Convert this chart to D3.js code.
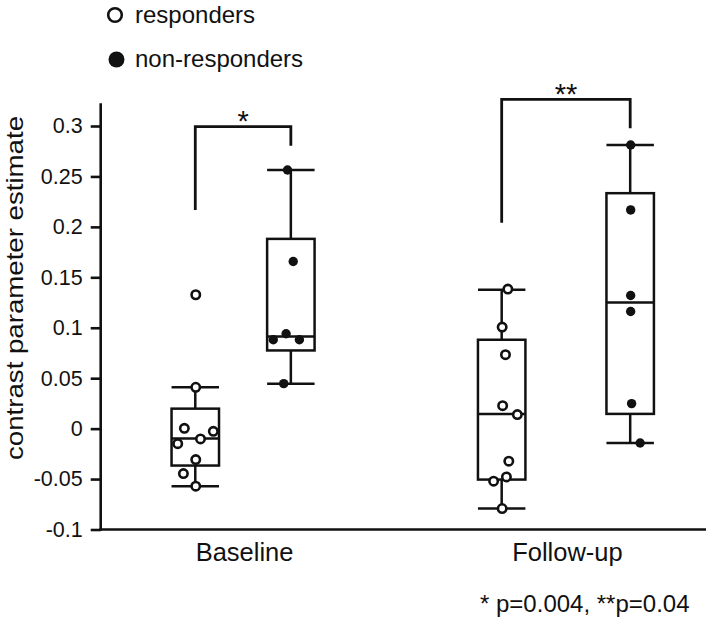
<!DOCTYPE html>
<html>
<head>
<meta charset="utf-8">
<script src="https://cdn.jsdelivr.net/npm/d3@7"></script>
<style>
  html, body { margin: 0; padding: 0; background: #fff; }
  svg { display: block; }
  text { font-family: "Liberation Sans", Arial, Helvetica, sans-serif; fill: #111; }
</style>
</head>
<body>
<svg id="chart" width="709" height="626"></svg>
<script>
// ---------------- data ----------------
const groups = ["Baseline", "Follow-up"];
const seriesNames = ["responders", "non-responders"];
const yTicks = [-0.1, -0.05, 0, 0.05, 0.1, 0.15, 0.2, 0.25, 0.3];
const yTickLabels = ["-0.1", "-0.05", "0", "0.05", "0.1", "0.15", "0.2", "0.25", "0.3"];
const yTitle = "contrast parameter estimate";
const footnote = "* p=0.004, **p=0.04";

// individual subject values
const baselineResponders = [0.1327, 0.041, 0.0003, -0.0027, -0.0149, -0.0102, -0.0307, -0.0446, -0.0571];
const baselineNonResponders = [0.2564, 0.1657, 0.0941, 0.0881, 0.0881, 0.0446];
const followupResponders = [0.1383, 0.1007, 0.0733, 0.0228, 0.0139, -0.0323, -0.0479, -0.0521, -0.0792];
const followupNonResponders = [0.2812, 0.2168, 0.132, 0.1161, 0.0248, -0.0142];

// horizontal jitter of the dots (fraction of box width)
const baselineRespondersJitter = [0.01, 0.01, -0.23, 0.38, -0.37, 0.11, 0.01, -0.25, 0.01];
const baselineNonRespondersJitter = [-0.07, 0.05, -0.1, -0.37, 0.18, -0.15];
const followupRespondersJitter = [0.13, 0.01, 0.08, 0.02, 0.33, 0.15, 0.1, -0.17, 0.01];
const followupNonRespondersJitter = [0.01, 0.01, 0.01, 0.01, 0.03, 0.21];

// box statistics: [lower whisker, Q1, median, Q3, upper whisker]
const baselineRespondersBox = [-0.0571, -0.0366, -0.0099, 0.0198, 0.0409];
const baselineNonRespondersBox = [0.0446, 0.0775, 0.0914, 0.1881, 0.2564];
const followupRespondersBox = [-0.0792, -0.0505, 0.0146, 0.0881, 0.1376];
const followupNonRespondersBox = [-0.0142, 0.0146, 0.125, 0.2334, 0.2812];

// significance brackets (y values)
const bracketGroups = ["Baseline", "Follow-up"];
const bracketLeftEnd = [0.2168, 0.204];
const bracketRightEnd = [0.2805, 0.2977];
const bracketTop = [0.2993, 0.3264];
const bracketLabels = ["*", "**"];

// ---------------- layout ----------------
const svg = d3.select("#chart");
const axisX = 100.7, axisY = 529.5, axisRight = 706;
const y = d3.scaleLinear().domain([-0.1, 0.3]).range([529.5, 126]);
const xGroup = d3.scalePoint().domain(groups).range([101, 708]).padding(0.44);
const step = xGroup.step();
const dodge = { "Baseline": 0.148, "Follow-up": 0.199 };
const boxW = step * 0.147;

const boxes = [
  { g: "Baseline", s: 0, vals: baselineResponders, jit: baselineRespondersJitter, st: baselineRespondersBox },
  { g: "Baseline", s: 1, vals: baselineNonResponders, jit: baselineNonRespondersJitter, st: baselineNonRespondersBox },
  { g: "Follow-up", s: 0, vals: followupResponders, jit: followupRespondersJitter, st: followupRespondersBox },
  { g: "Follow-up", s: 1, vals: followupNonResponders, jit: followupNonRespondersJitter, st: followupNonRespondersBox }
];
const cx = b => xGroup(b.g) + (b.s === 0 ? -1 : 1) * dodge[b.g] * step;

// ---------------- axes ----------------
const yAxis = d3.axisLeft(y).tickValues(yTicks).tickFormat((d, i) => yTickLabels[i])
  .tickSize(10).tickPadding(8).tickSizeOuter(0);
const gy = svg.append("g").attr("transform", `translate(${axisX},0)`).call(yAxis);
gy.select(".domain").remove();
gy.selectAll(".tick line").attr("stroke", "#111").attr("stroke-width", 2.6);
gy.selectAll(".tick text").attr("font-size", 21.5).attr("fill", "#111")
  .attr("font-family", '"Liberation Sans", Arial, sans-serif');

svg.append("line").attr("x1", axisX).attr("x2", axisX)
  .attr("y1", y(0.3226)).attr("y2", axisY + 1.3)
  .attr("stroke", "#111").attr("stroke-width", 2.6);
svg.append("line").attr("x1", axisX - 1.3).attr("x2", axisRight)
  .attr("y1", axisY).attr("y2", axisY)
  .attr("stroke", "#111").attr("stroke-width", 2.6);

// x category labels
svg.append("g").selectAll("text").data(groups).join("text")
  .attr("x", d => xGroup(d) + 1.5).attr("y", 561)
  .attr("text-anchor", "middle").attr("font-size", 25.5)
  .text(d => d);

// y title
svg.append("text")
  .attr("transform", `translate(23,288) rotate(-90)`)
  .attr("text-anchor", "middle").attr("font-size", 24)
  .attr("textLength", 344).attr("lengthAdjust", "spacingAndGlyphs")
  .text(yTitle);

// ---------------- boxes ----------------
const gb = svg.append("g").attr("stroke", "#111").attr("stroke-width", 2.5).attr("fill", "none");
boxes.forEach(b => {
  const c = cx(b), [lo, q1, med, q3, hi] = b.st;
  const g = gb.append("g");
  g.append("line").attr("x1", c).attr("x2", c).attr("y1", y(q3)).attr("y2", y(hi));
  g.append("line").attr("x1", c).attr("x2", c).attr("y1", y(q1)).attr("y2", y(lo));
  g.append("line").attr("x1", c - boxW / 2).attr("x2", c + boxW / 2).attr("y1", y(hi)).attr("y2", y(hi));
  g.append("line").attr("x1", c - boxW / 2).attr("x2", c + boxW / 2).attr("y1", y(lo)).attr("y2", y(lo));
  g.append("rect").attr("x", c - boxW / 2).attr("width", boxW)
    .attr("y", y(q3)).attr("height", y(q1) - y(q3));
  g.append("line").attr("x1", c - boxW / 2).attr("x2", c + boxW / 2).attr("y1", y(med)).attr("y2", y(med));
});

// ---------------- points ----------------
boxes.forEach(b => {
  const c = cx(b);
  svg.append("g").selectAll("circle").data(b.vals).join("circle")
    .attr("cx", (d, i) => c + b.jit[i] * boxW)
    .attr("cy", d => y(d))
    .attr("r", b.s === 0 ? 4.2 : 4.7)
    .attr("fill", b.s === 0 ? "#fff" : "#111")
    .attr("stroke", b.s === 0 ? "#111" : "none")
    .attr("stroke-width", 2.6);
});

// ---------------- significance brackets ----------------
bracketGroups.forEach((gname, i) => {
  const left = cx({ g: gname, s: 0 }), right = cx({ g: gname, s: 1 });
  svg.append("path")
    .attr("d", d3.line()([[left, y(bracketLeftEnd[i])], [left, y(bracketTop[i])],
                          [right, y(bracketTop[i])], [right, y(bracketRightEnd[i])]]))
    .attr("fill", "none").attr("stroke", "#111").attr("stroke-width", 2.8)
    .attr("stroke-linejoin", "miter");
  svg.append("text")
    .attr("x", (left + right) / 2).attr("y", y(bracketTop[i]) + 4.7)
    .attr("text-anchor", "middle").attr("font-size", 29)
    .text(bracketLabels[i]);
});

// ---------------- legend ----------------
const lg = svg.append("g");
seriesNames.forEach((name, i) => {
  const yy = i === 0 ? 15 : 59.5;
  lg.append("circle").attr("cx", i === 0 ? 115 : 116.5).attr("cy", yy)
    .attr("r", i === 0 ? 6.8 : 8)
    .attr("fill", i === 0 ? "#fff" : "#111")
    .attr("stroke", i === 0 ? "#111" : "none").attr("stroke-width", 2.6);
  lg.append("text").attr("x", 135).attr("y", yy + 7.5)
    .attr("font-size", 24).text(name);
});

// footnote
svg.append("text").attr("x", 480).attr("y", 612).attr("font-size", 24).text(footnote);
</script>
</body>
</html>
